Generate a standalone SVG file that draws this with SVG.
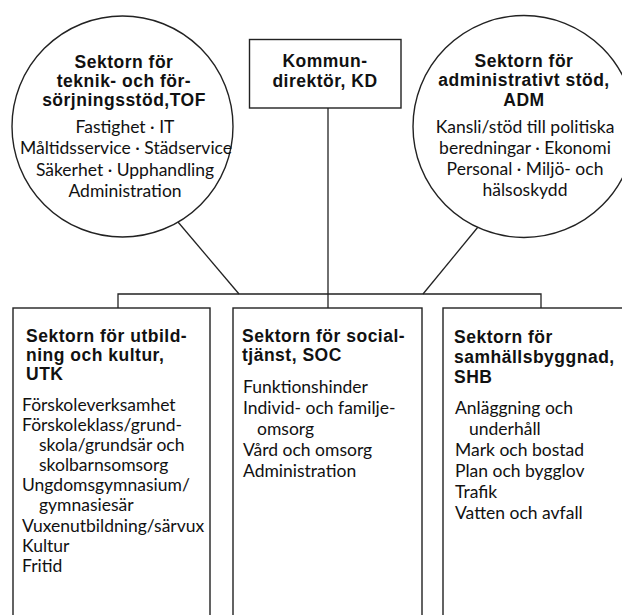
<svg xmlns="http://www.w3.org/2000/svg" width="622" height="615" viewBox="0 0 622 615">
<style>
.shape{fill:#fff;stroke:#222;stroke-width:1.4}
.conn{fill:none;stroke:#222;stroke-width:1.3}
text{font-family:Lato,"Open Sans","Liberation Sans",sans-serif;fill:#111}
.t{font-family:"Liberation Sans",Arial,sans-serif;font-weight:bold;font-size:17.5px;letter-spacing:0.5px}
.b{font-size:17.5px}
.c{text-anchor:middle}
</style>
<rect width="622" height="615" fill="#fff"/>
<g id="connectors">
<path class="conn" d="M118,308 V294 H541 V308"/>
<path class="conn" d="M328,108 V308"/>
<path class="conn" d="M178,222 L239,294"/>
<path class="conn" d="M478,227 L423,294"/>
</g>
<g id="tof">
<circle class="shape" cx="122.5" cy="126.5" r="110.5"/>
<text class="t c" x="124" y="68">Sektorn för</text>
<text class="t c" x="124" y="87">teknik- och för-</text>
<text class="t c" x="124" y="106">sörjningsstöd,TOF</text>
<text class="b c" x="125" y="133">Fastighet · IT</text>
<text class="b c" x="126" y="154">Måltidsservice · Städservice</text>
<text class="b c" x="125" y="175.5">Säkerhet · Upphandling</text>
<text class="b c" x="125" y="197">Administration</text>
</g>
<g id="kd">
<rect class="shape" x="249.5" y="39.5" width="151.5" height="68.5"/>
<text class="t c" x="325" y="67">Kommun-</text>
<text class="t c" x="325" y="87">direktör, KD</text>
</g>
<g id="adm">
<circle class="shape" cx="524" cy="126.5" r="111"/>
<text class="t c" x="524" y="67">Sektorn för</text>
<text class="t c" x="524" y="86">administrativt stöd,</text>
<text class="t c" x="524" y="106">ADM</text>
<text class="b c" x="525" y="133">Kansli/stöd till politiska</text>
<text class="b c" x="525" y="154">beredningar · Ekonomi</text>
<text class="b c" x="525" y="175">Personal · Miljö- och</text>
<text class="b c" x="525" y="196">hälsoskydd</text>
</g>
<g id="utk">
<rect class="shape" x="13" y="308" width="197" height="320"/>
<text class="t" x="26" y="342">Sektorn för utbild-</text>
<text class="t" x="26" y="361">ning och kultur,</text>
<text class="t" x="26" y="380">UTK</text>
<text class="b" x="22" y="411">Förskoleverksamhet</text>
<text class="b" x="22" y="431">Förskoleklass/grund-</text>
<text class="b" x="39" y="451">skola/grundsär och</text>
<text class="b" x="39" y="471">skolbarnsomsorg</text>
<text class="b" x="22" y="491">Ungdomsgymnasium/</text>
<text class="b" x="39" y="511">gymnasiesär</text>
<text class="b" x="22" y="532">Vuxenutbildning/särvux</text>
<text class="b" x="22" y="552">Kultur</text>
<text class="b" x="22" y="572">Fritid</text>
</g>
<g id="soc">
<rect class="shape" x="233" y="308" width="189" height="320"/>
<text class="t" x="242" y="342">Sektorn för social-</text>
<text class="t" x="242" y="361">tjänst, SOC</text>
<text class="b" x="243" y="393">Funktionshinder</text>
<text class="b" x="243" y="413.5">Individ- och familje-</text>
<text class="b" x="257" y="434.5">omsorg</text>
<text class="b" x="243" y="455.5">Vård och omsorg</text>
<text class="b" x="243" y="476.5">Administration</text>
</g>
<g id="shb">
<rect class="shape" x="443" y="308" width="200" height="320"/>
<text class="t" x="454" y="343">Sektorn för</text>
<text class="t" x="454" y="363">samhällsbyggnad,</text>
<text class="t" x="454" y="383">SHB</text>
<text class="b" x="455" y="413.5">Anläggning och</text>
<text class="b" x="469" y="435">underhåll</text>
<text class="b" x="455" y="456">Mark och bostad</text>
<text class="b" x="455" y="477">Plan och bygglov</text>
<text class="b" x="455" y="498">Trafik</text>
<text class="b" x="455" y="519">Vatten och avfall</text>
</g>
</svg>
